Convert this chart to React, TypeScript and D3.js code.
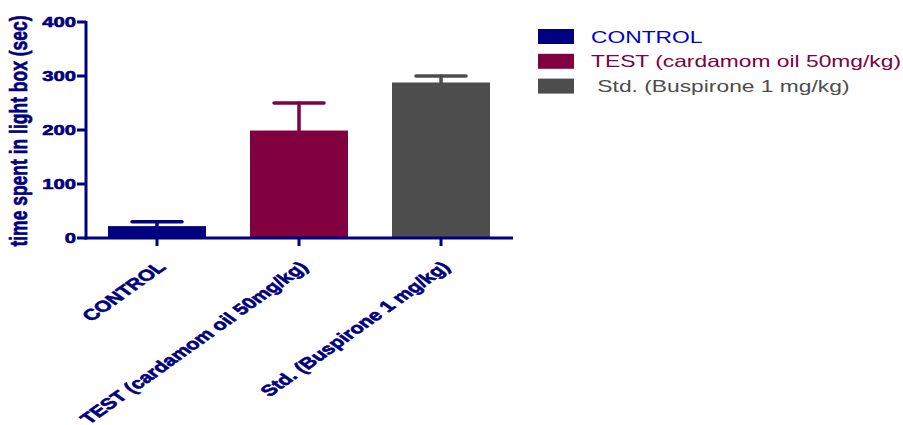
import React from "react";
import * as d3 from "d3";

const categories = ["CONTROL", "TEST (cardamom oil 50mg/kg)", "Std. (Buspirone 1 mg/kg)"];
const legendLabels = ["CONTROL", "TEST (cardamom oil 50mg/kg)", " Std. (Buspirone 1 mg/kg)"];
const means = [22, 199, 288];
const errors = [8, 51, 12];
const yTicks = [0, 100, 200, 300, 400];
const barColors = ["#000080", "#800040", "#4d4d4d"];
const legendTextColors = ["#0000cc", "#800040", "#4d4d4d"];

const W = 903;
const H = 425;
const SX = 1.4;
const NAVY = "#000080";
const FONT = "'Liberation Sans', Arial, sans-serif";

export default function App() {
  const x = d3
    .scaleBand<string>()
    .domain(categories)
    .range([86, 512])
    .paddingInner(0.31)
    .paddingOuter(0.155);
  const y = d3.scaleLinear().domain([0, 400]).range([238, 22]);
  const bw = x.bandwidth();
  const capW = bw * 0.51;

  return (
    <svg width={W} height={H} style={{ position: "absolute", left: 0, top: 0, background: "#fff" }}>
      {/* bars */}
      {categories.map((c, i) => (
        <rect key={c} x={x(c)} y={y(means[i])} width={bw} height={y(0) - y(means[i])} fill={barColors[i]} />
      ))}
      {/* error bars */}
      {categories.map((c, i) => {
        const cx = (x(c) as number) + bw / 2;
        return (
          <g key={"e" + c} stroke={barColors[i]} strokeWidth={3.5} strokeLinecap="round">
            <line x1={cx} x2={cx} y1={y(means[i])} y2={y(means[i] + errors[i])} />
            <line x1={cx - capW / 2} x2={cx + capW / 2} y1={y(means[i] + errors[i])} y2={y(means[i] + errors[i])} />
          </g>
        );
      })}
      {/* y axis */}
      <line x1={86} x2={86} y1={y(400) - 1} y2={y(0) + 1.5} stroke={NAVY} strokeWidth={3} />
      {yTicks.map((t) => (
        <g key={t}>
          <line x1={77} x2={86} y1={y(t)} y2={y(t)} stroke={NAVY} strokeWidth={3} />
          <text
            transform={`translate(76,${y(t) + 5.3}) scale(${SX},1)`}
            textAnchor="end"
            fontFamily={FONT}
            fontWeight="bold"
            fontSize={14.5}
            fill={NAVY}
            stroke={NAVY}
            strokeWidth={0.6}
          >
            {t}
          </text>
        </g>
      ))}
      {/* x axis */}
      <line x1={84.5} x2={513} y1={y(0)} y2={y(0)} stroke={NAVY} strokeWidth={3} />
      {categories.map((c) => {
        const cx = (x(c) as number) + bw / 2;
        return (
          <g key={"t" + c}>
            <line x1={cx} x2={cx} y1={y(0)} y2={y(0) + 8} stroke={NAVY} strokeWidth={3} />
            <text
              transform={`translate(${cx + 10},${y(0) + 30}) scale(${SX},1) rotate(-45)`}
              textAnchor="end"
              fontFamily={FONT}
              fontWeight="bold"
              fontSize={15.5}
              fill={NAVY}
              stroke={NAVY}
              strokeWidth={0.6}
            >
              {c}
            </text>
          </g>
        );
      })}
      {/* y title */}
      <text
        transform={`translate(27,131) scale(${SX},1) rotate(-90)`}
        textAnchor="middle"
        fontFamily={FONT}
        fontWeight="bold"
        fontSize={17.5}
        fill={NAVY}
        stroke={NAVY}
        strokeWidth={0.5}
      >
        time spent in light box (sec)
      </text>
      {/* legend */}
      {legendLabels.map((l, i) => {
        const ly = 29 + i * 24.8;
        return (
          <g key={"l" + i}>
            <rect x={538} y={ly} width={36} height={15} fill={barColors[i]} />
            <text
              transform={`translate(591,${ly + 13.5}) scale(${SX},1)`}
              fontFamily={FONT}
              fontSize={16.3}
              fill={legendTextColors[i]}
              style={{ whiteSpace: "pre" }}
            >
              {l}
            </text>
          </g>
        );
      })}
    </svg>
  );
}
